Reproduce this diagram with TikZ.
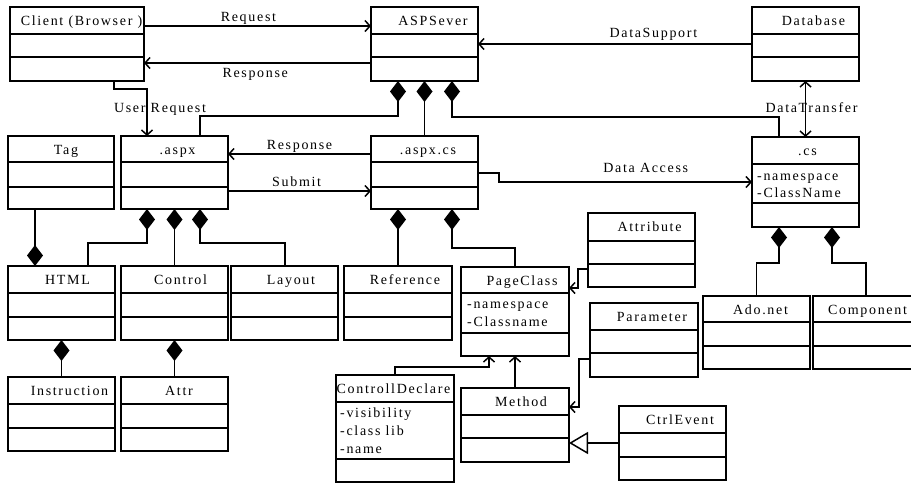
\documentclass[tikz,border=0pt]{standalone}
\usepackage{fontspec}
\setmainfont{Liberation Serif}[LetterSpace=12]
\usetikzlibrary{arrows.meta}
\newcommand\umlclass[9]{%
  \node[cls, minimum width=#4pt, minimum height=#5pt] (#1) at (#2,#3) {};
  \draw[clsline] ([yshift=-#6pt]#1.north west) -- ([yshift=-#6pt]#1.north east);
  \draw[clsline] ([yshift=-#7pt]#1.north west) -- ([yshift=-#7pt]#1.north east);
  \node[ttl] (#1-t) at ([xshift=#9pt,yshift=-18pt]#1.north) {#8};
}
\begin{document}
\begin{tikzpicture}[x=1pt,y=-1pt,
  font=\fontsize{14}{17}\selectfont,
  cls/.style={draw, line width=1.8pt, anchor=north west, inner sep=0pt, outer sep=0pt},
  clsline/.style={line width=1.8pt},
  ttl/.style={anchor=base, inner sep=0pt},
  attr/.style={anchor=base west, inner sep=0pt},
  lbl/.style={anchor=base, inner sep=0pt},
  conn/.style={line width=1.5pt},
  arr/.style={conn, -{Straight Barb[length=5pt,width=11pt]}},
  darr/.style={conn, {Straight Barb[length=5pt,width=11pt]}-{Straight Barb[length=5pt,width=11pt]}},
  agg/.style={conn, {Diamond[length=21pt,width=16pt]}-},
  gen/.style={conn, -{Triangle[open,length=19pt,width=22pt]}}]
\useasboundingbox (0,0) rectangle (911,483);
\clip (0,0) rectangle (911,483);
% classes
\umlclass{client}{10}{7}{134}{74}{27}{50}{Client (Browser )}{4.5}
\umlclass{asp}{371}{7}{107}{74}{27}{50}{ASPSever}{8.5}
\umlclass{db}{752}{7}{107}{74}{27}{50}{Database}{8}
\umlclass{tag}{8}{136}{106}{73}{26}{51}{Tag}{5}
\umlclass{aspx}{121}{136}{107}{73}{26}{51}{.aspx}{3}
\umlclass{aspxcs}{371}{136}{107}{73}{26}{51}{.aspx.cs}{3.5}
\umlclass{cs}{752}{137}{107}{90}{27}{66}{.cs}{2}
\umlclass{html}{8}{266}{107}{74}{27}{51}{HTML}{6}
\umlclass{control}{121}{266}{107}{74}{27}{51}{Control}{6}
\umlclass{layout}{231}{266}{107}{74}{27}{51}{Layout}{6.5}
\umlclass{reference}{344}{266}{108}{74}{27}{51}{Reference}{7}
\umlclass{pageclass}{461}{267}{108}{89}{26}{66}{PageClass}{7}
\umlclass{attribute}{588}{213}{107}{74}{28}{51}{Attribute}{8}
\umlclass{parameter}{590}{303}{108}{74}{27}{50}{Parameter}{8}
\umlclass{method}{461}{388}{108}{74}{27}{50}{Method}{6}
\umlclass{cd}{336}{375}{118}{107}{27}{84}{ControllDeclare}{-1.5}
\umlclass{ctrlevent}{619}{406}{107}{74}{27}{51}{CtrlEvent}{7.5}
\umlclass{adonet}{703}{296}{107}{73}{26}{50}{Ado.net}{4}
\umlclass{component}{813}{296}{107}{73}{26}{50}{Component}{1}
\umlclass{instruction}{8}{377}{107}{74}{27}{51}{Instruction}{8}
\umlclass{attr}{121}{377}{107}{74}{27}{51}{Attr}{4.5}
% attributes
\node[attr] (cs-a1) at ([xshift=5pt,yshift=-43pt]cs.north west) {-namespace};
\node[attr] (cs-a2) at ([xshift=5pt,yshift=-60pt]cs.north west) {-ClassName};
\node[attr] (pc-a1) at ([xshift=6pt,yshift=-41pt]pageclass.north west) {-namespace};
\node[attr] (pc-a2) at ([xshift=6pt,yshift=-59pt]pageclass.north west) {-Classname};
\node[attr] (cd-a1) at ([xshift=4pt,yshift=-42pt]cd.north west) {-visibility};
\node[attr] (cd-a2) at ([xshift=4pt,yshift=-60pt]cd.north west) {-class lib};
\node[attr] (cd-a3) at ([xshift=4pt,yshift=-78pt]cd.north west) {-name};
% associations
\draw[arr] ([yshift=-19pt]client.north east) -- ([yshift=-19pt]asp.north west)
  node[lbl,pos=0.46,yshift=4.5pt] {Request};
\draw[arr] ([yshift=-56pt]asp.north west) -- ([yshift=-56pt]client.north east)
  node[lbl,pos=0.51,yshift=-14pt] {Response};
\draw[arr] ([yshift=-37pt]db.north west) -- ([yshift=-37pt]asp.north east)
  node[lbl,pos=0.36,yshift=7pt] {DataSupport};
\draw[arr] ([xshift=-30pt]client.south east) -- ++(0,8) -| ([xshift=26pt]aspx.north west)
  node[lbl,pos=0.745,xshift=13pt] {User Request};
\draw[darr] (db.south) -- (cs.north)
  node[lbl,midway,xshift=6pt,yshift=-3pt] {DataTransfer};
\draw[arr] ([yshift=-18pt]aspxcs.north west) -- ([yshift=-18pt]aspx.north east)
  node[lbl,pos=0.5,yshift=5pt] {Response};
\draw[arr] ([yshift=-55pt]aspx.north east) -- ([yshift=-55pt]aspxcs.north west)
  node[lbl,pos=0.48,yshift=5pt] {Submit};
\draw[arr] ([yshift=-37pt]aspxcs.north east) -- ++(21,0) |- ([yshift=-45pt]cs.north west)
  node[lbl,pos=0.79,yshift=10pt] {Data Access};
\draw[arr] ([yshift=-56pt]attribute.north west) -- ++(-10,0) |- ([yshift=-21pt]pageclass.north east);
\draw[arr] ([yshift=-56pt]parameter.north west) -- ++(-11,0) |- ([yshift=-19pt]method.north east);
\draw[arr] (method.north) -- (pageclass.south);
\draw[arr] (cd.north) -- ++(0,-8) -| ([xshift=28pt]pageclass.south west);
\draw[gen] ([yshift=-37pt]ctrlevent.north west) -- ([yshift=-55pt]method.north east);
% aggregations
\draw[agg] ([xshift=27pt]asp.south west) -- ++(0,35) -| ([xshift=79pt]aspx.north west);
\draw[agg] (asp.south) -- (aspxcs.north);
\draw[agg] ([xshift=81pt]asp.south west) -- ++(0,36) -| ([xshift=27pt]cs.north west);
\draw[agg] ([xshift=26pt]aspx.south west) -- ++(0,34) -| ([xshift=80pt]html.north west);
\draw[agg] (aspx.south) -- (control.north);
\draw[agg] ([xshift=79pt]aspx.south west) -- ++(0,34) -| ([xshift=54pt]layout.north west);
\draw[agg] ([xshift=27pt]html.north west) -- ([xshift=27pt]tag.south west);
\draw[agg] (html.south) -- (instruction.north);
\draw[agg] (control.south) -- (attr.north);
\draw[agg] ([xshift=27pt]aspxcs.south west) -- (reference.north);
\draw[agg] ([xshift=81pt]aspxcs.south west) -- ++(0,39) -| (pageclass.north);
\draw[agg] ([xshift=27pt]cs.south west) -- ++(0,36) -| (adonet.north);
\draw[agg] ([xshift=80pt]cs.south west) -- ++(0,36) -| ([xshift=53pt]component.north west);
\end{tikzpicture}
\end{document}
